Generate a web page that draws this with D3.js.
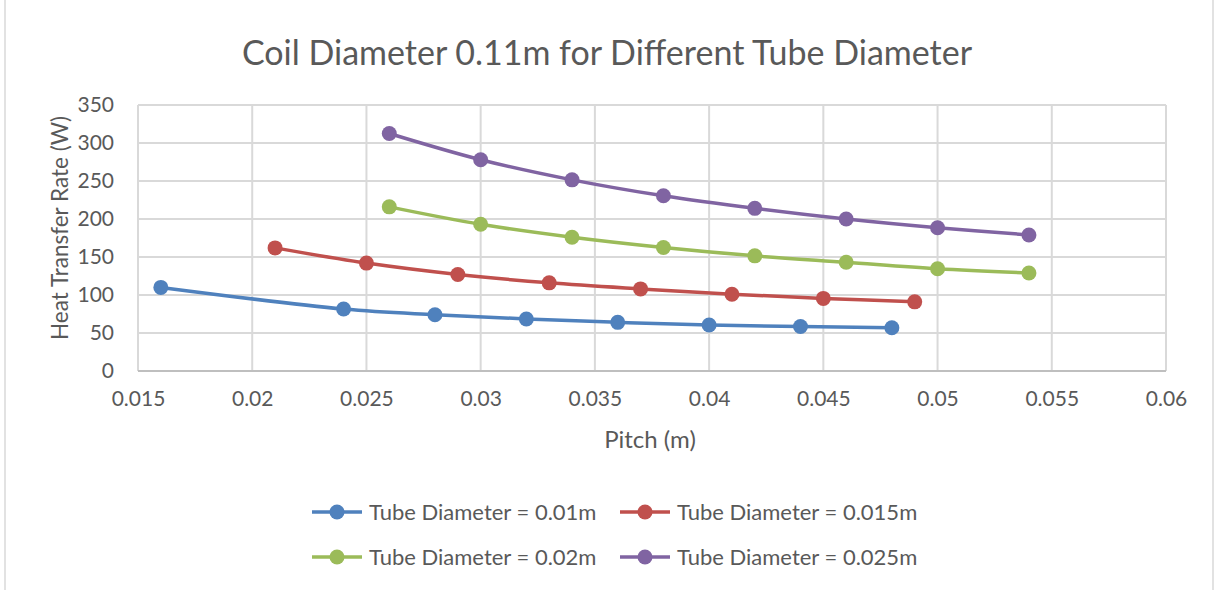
<!DOCTYPE html>
<html>
<head>
<meta charset="utf-8">
<script src="https://cdn.jsdelivr.net/npm/d3@7"></script>
<style>
  html, body { margin: 0; padding: 0; background: #fff; }
  svg { display: block; font-family: Lato, "Open Sans", sans-serif; }
</style>
</head>
<body>
<svg id="chart" width="1215" height="590"></svg>
<script>
// Pitch (m) for each tube diameter series
const pitchD010 = [0.016, 0.024, 0.028, 0.032, 0.036, 0.040, 0.044, 0.048];
const pitchD015 = [0.021, 0.025, 0.029, 0.033, 0.037, 0.041, 0.045, 0.049];
const pitchD020 = [0.026, 0.030, 0.034, 0.038, 0.042, 0.046, 0.050, 0.054];
const pitchD025 = [0.026, 0.030, 0.034, 0.038, 0.042, 0.046, 0.050, 0.054];

// Heat transfer rate (W)
const heatD010 = [110, 81.5, 74, 68.5, 64, 60.5, 58.5, 57];
const heatD015 = [162, 142, 127, 116, 108, 101, 95.5, 91];
const heatD020 = [216, 193, 176, 162.5, 151.5, 143, 134.5, 129];
const heatD025 = [312.5, 278, 251.5, 230.5, 214, 200, 188.5, 179];

const seriesNames = ["Tube Diameter = 0.01m", "Tube Diameter = 0.015m",
                     "Tube Diameter = 0.02m", "Tube Diameter = 0.025m"];
const seriesColors = ["#4F81BD", "#C0504D", "#9BBB59", "#8064A2"];

const xTicks = [0.015, 0.02, 0.025, 0.03, 0.035, 0.04, 0.045, 0.05, 0.055, 0.06];
const yTicks = [0, 50, 100, 150, 200, 250, 300, 350];

const series = [
  { name: seriesNames[0], color: seriesColors[0], x: pitchD010, y: heatD010 },
  { name: seriesNames[1], color: seriesColors[1], x: pitchD015, y: heatD015 },
  { name: seriesNames[2], color: seriesColors[2], x: pitchD020, y: heatD020 },
  { name: seriesNames[3], color: seriesColors[3], x: pitchD025, y: heatD025 }
];

const svg = d3.select("#chart");
const textColor = "#595959";

// outer chart frame (left and right edges)
svg.append("line").attr("x1", 5).attr("x2", 5).attr("y1", 0).attr("y2", 590)
  .attr("stroke", "#d9d9d9").attr("stroke-width", 1.5);
svg.append("line").attr("x1", 1213).attr("x2", 1213).attr("y1", 0).attr("y2", 590)
  .attr("stroke", "#d9d9d9").attr("stroke-width", 1.5);

const plot = { left: 138, right: 1166, top: 105, bottom: 371 };

const x = d3.scaleLinear().domain([0.015, 0.06]).range([plot.left, plot.right]);
const y = d3.scaleLinear().domain([0, 350]).range([plot.bottom, plot.top]);

// gridlines
const grid = svg.append("g");
grid.selectAll("line.h").data(yTicks.filter(d => d > 0)).join("line")
  .attr("x1", plot.left).attr("x2", plot.right)
  .attr("y1", d => y(d)).attr("y2", d => y(d))
  .attr("stroke", "#d9d9d9").attr("stroke-width", 2);
grid.selectAll("line.v").data(xTicks).join("line")
  .attr("x1", d => x(d)).attr("x2", d => x(d))
  .attr("y1", plot.top).attr("y2", plot.bottom)
  .attr("stroke", "#d9d9d9").attr("stroke-width", 2);

// x axis baseline
svg.append("line").attr("x1", plot.left).attr("x2", plot.right)
  .attr("y1", plot.bottom).attr("y2", plot.bottom)
  .attr("stroke", "#bfbfbf").attr("stroke-width", 2);

// axes (labels only)
const xAxis = svg.append("g").attr("transform", `translate(0,${plot.bottom})`)
  .call(d3.axisBottom(x).tickValues(xTicks).tickSize(0).tickPadding(20)
    .tickFormat(d => String(+d.toFixed(3))));
const yAxis = svg.append("g").attr("transform", `translate(${plot.left},0)`)
  .call(d3.axisLeft(y).tickValues(yTicks).tickSize(0).tickPadding(24)
    .tickFormat(d3.format("d")));
[xAxis, yAxis].forEach(a => {
  a.select(".domain").remove();
  a.selectAll("text").attr("fill", textColor).style("font-size", "21px")
    .style("font-family", "Lato, 'Open Sans', sans-serif");
});

// series lines and markers
const line = d3.line().x(d => x(d[0])).y(d => y(d[1])).curve(d3.curveCatmullRom.alpha(0.5));
series.forEach(s => {
  const pts = s.x.map((v, i) => [v, s.y[i]]);
  svg.append("path").datum(pts).attr("d", line)
    .attr("fill", "none").attr("stroke", s.color).attr("stroke-width", 3.5)
    .attr("stroke-linecap", "round");
  svg.append("g").selectAll("circle").data(pts).join("circle")
    .attr("cx", d => x(d[0])).attr("cy", d => y(d[1])).attr("r", 7.5)
    .attr("fill", s.color);
});

// title
svg.append("text").attr("x", 607).attr("y", 65).attr("text-anchor", "middle")
  .attr("fill", textColor).style("font-size", "34px")
  .text("Coil Diameter 0.11m for Different Tube Diameter");

// axis titles
svg.append("text").attr("x", 650).attr("y", 448).attr("text-anchor", "middle")
  .attr("fill", textColor).style("font-size", "24px").text("Pitch (m)");
svg.append("text").attr("transform", "translate(68,228) rotate(-90)")
  .attr("text-anchor", "middle").attr("fill", textColor).style("font-size", "22.5px")
  .text("Heat Transfer Rate (W)");

// legend
const legendPos = [[312, 512], [620, 512], [312, 557], [620, 557]];
series.forEach((s, i) => {
  const [lx, ly] = legendPos[i];
  const g = svg.append("g").attr("transform", `translate(${lx},${ly})`);
  g.append("line").attr("x1", 0).attr("x2", 50).attr("y1", 0).attr("y2", 0)
    .attr("stroke", s.color).attr("stroke-width", 3.5);
  g.append("circle").attr("cx", 25).attr("cy", 0).attr("r", 7.5).attr("fill", s.color);
  g.append("text").attr("x", 57).attr("y", 7.5).attr("fill", textColor)
    .style("font-size", "22px").text(s.name);
});
</script>
</body>
</html>
